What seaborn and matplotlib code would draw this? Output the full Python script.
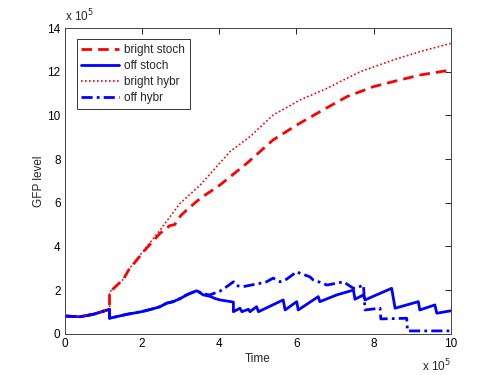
import numpy as np
import pandas as pd
import matplotlib
matplotlib.use('Agg')
import matplotlib.pyplot as plt
import seaborn as sns

# values, in units of 1e5
stoch_off_t = [0, 0.4, 0.74, 1.16, 1.16, 1.61, 1.99, 2.3, 2.47, 2.64, 2.81, 3.0, 3.16, 3.25, 3.42,
               3.59, 3.75, 3.89, 4.02, 4.37, 4.37, 4.54, 4.59, 4.76, 4.80, 4.97, 5.02, 5.66,
               5.71, 6.01, 6.05, 6.57, 6.61, 7.05, 7.48, 7.52, 7.74, 7.78, 8.47, 8.56,
               9.16, 9.20, 9.59, 9.64, 10.0]
stoch_off_y = [0.81, 0.78, 0.89, 1.12, 0.71, 0.89, 1.01, 1.15, 1.24, 1.40, 1.47, 1.62, 1.78, 1.85, 1.97,
               1.78, 1.72, 1.62, 1.55, 1.45, 1.01, 1.17, 1.01, 1.12, 1.01, 1.24, 1.01, 1.55,
               1.09, 1.47, 1.09, 1.70, 1.47, 1.78, 2.00, 1.58, 1.78, 1.55, 2.08, 1.17,
               1.47, 1.09, 1.32, 0.94, 1.05]

hybr_off_t = [0, 0.4, 0.74, 1.16, 1.16, 1.61, 1.99, 2.3, 2.47, 2.64, 2.81, 3.0, 3.16, 3.25, 3.42,
              3.6, 3.76, 4.02, 4.20, 4.37, 4.45, 4.63, 4.80, 5.06, 5.23, 5.40, 5.49, 5.58,
              5.75, 6.01, 6.10, 6.35, 6.44, 6.70, 6.79, 7.0, 7.22, 7.48, 7.56, 7.74, 7.78,
              8.17, 8.19, 8.86, 8.88, 10.0]
hybr_off_y = [0.81, 0.78, 0.89, 1.12, 0.71, 0.89, 1.01, 1.15, 1.24, 1.40, 1.47, 1.62, 1.78, 1.85, 1.97,
              1.82, 1.78, 1.95, 2.16, 2.38, 2.20, 2.16, 2.22, 2.31, 2.38, 2.55, 2.46, 2.38,
              2.50, 2.84, 2.77, 2.61, 2.46, 2.31, 2.23, 2.30, 2.38, 2.08, 2.10, 2.23, 1.09,
              1.17, 0.68, 0.71, 0.13, 0.13]

stoch_bright_t = [0, 0.4, 0.74, 1.16, 1.16, 1.25, 1.52, 1.65, 2.04, 2.47, 2.72, 2.85, 3.0, 3.16,
                  3.51, 4.02, 4.72, 5.40, 6.01, 6.61, 7.31, 8.0, 8.51, 9.20, 10.0]
stoch_bright_y = [0.81, 0.78, 0.89, 1.12, 1.91, 2.05, 2.50, 2.90, 3.76, 4.60, 4.95, 5.00, 5.40, 5.67,
                  6.20, 6.81, 7.81, 8.88, 9.56, 10.17, 10.86, 11.32, 11.55, 11.85, 12.08]

hybr_bright_t = [0, 0.4, 0.74, 1.16, 1.16, 1.25, 1.52, 1.65, 2.04, 2.47, 2.99, 3.51, 4.28, 4.80,
                 5.40, 6.10, 6.79, 7.65, 8.51, 9.20, 10.0]
hybr_bright_y = [0.81, 0.78, 0.89, 1.12, 1.91, 2.05, 2.50, 2.92, 3.80, 4.75, 5.98, 6.81, 8.34, 9.03,
                 10.02, 10.71, 11.24, 12.0, 12.54, 12.92, 13.3]

sns.set_style('white')
plt.rcParams['font.family'] = ['Liberation Sans', 'DejaVu Sans']

fig = plt.figure(figsize=(4.98, 3.75), dpi=100)
ax = fig.add_axes([0.13, 0.11, 0.775, 0.815])

series = [
    ('bright stoch', stoch_bright_t, stoch_bright_y, 'red', (0, (3.8, 2.2)), 2.0),
    ('off stoch', stoch_off_t, stoch_off_y, 'blue', '-', 2.0),
    ('bright hybr', hybr_bright_t, hybr_bright_y, 'red', (0, (1, 1.4)), 1.2),
    ('off hybr', hybr_off_t, hybr_off_y, 'blue', (0, (4, 1.5, 1, 1.5)), 2.0),
]
for name, t, y, col, ls, lw in series:
    df = pd.DataFrame({'t': t, 'y': y})
    sns.lineplot(data=df, x='t', y='y', ax=ax, sort=False, estimator=None,
                 color=col, linestyle=ls, linewidth=lw, label=name)

ax.set_xlim(0, 10)
ax.set_ylim(0, 14)
ax.set_xticks(range(0, 11, 2))
ax.set_yticks(range(0, 15, 2))
ax.tick_params(direction='in', length=4, width=0.6, labelsize=8.5, top=True, right=True,
               pad=3, colors='black')
for sp in ax.spines.values():
    sp.set_color('#444444')
    sp.set_linewidth(0.7)
ax.set_xlabel('Time', fontsize=8.5, labelpad=2)
ax.set_ylabel('GFP level', fontsize=8.5, labelpad=2)

ax.text(0.0, 1.012, r'x 10$^5$', transform=ax.transAxes, fontsize=8.5, ha='left', va='bottom')
ax.text(1.0, -0.078, r'x 10$^5$', transform=ax.transAxes, fontsize=8.5, ha='right', va='top')

leg = ax.legend(loc='upper left', bbox_to_anchor=(0.031, 0.964), borderaxespad=0,
                fontsize=8.5, frameon=True, fancybox=False, handlelength=3.2,
                handletextpad=0.4, labelspacing=0.35, borderpad=0.4)
leg.get_frame().set_edgecolor('black')
leg.get_frame().set_linewidth(0.7)

fig.savefig('out.png', dpi=100)
